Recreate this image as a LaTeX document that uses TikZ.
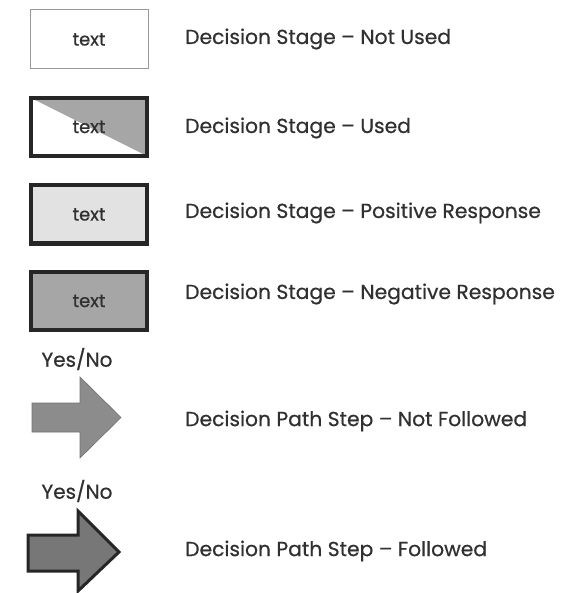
\documentclass[tikz,border=0pt]{standalone}
\usepackage{fontspec}
\setmainfont{Poppins}
\newfontfamily\legendfont[Ligatures=TeX, FakeBold=0.6]{Poppins}
\usetikzlibrary{positioning}
\definecolor{stagegray}{HTML}{A6A6A6}
\definecolor{stagelight}{HTML}{E2E2E2}
\definecolor{inkgray}{HTML}{303030}
\definecolor{arrowgray}{HTML}{8C8C8C}

\begin{document}
\begin{tikzpicture}[x=1pt, y=-1pt,
  stage/.style={rectangle, minimum width=116pt, minimum height=58pt, inner sep=0pt,
    font=\legendfont\fontsize{18}{20}\selectfont, text=inkgray},
  unused/.style={stage, draw=black!40, line width=1pt, minimum width=118pt, minimum height=59pt},
  used/.style={stage, draw=black!85, line width=4pt},
  legend/.style={anchor=west, inner sep=0pt, font=\legendfont\fontsize{20.3}{24}\selectfont, text=inkgray},
  yesno/.style={inner sep=0pt, font=\legendfont\fontsize{20}{24}\selectfont, text=inkgray},
]
\useasboundingbox (0,0) rectangle (560,593);

% decision stages
\node (stage0) [unused] at (89,39.5) {text};
\node (stage1) [used, path picture={
    \fill[stagegray] (path picture bounding box.north west) --
      (path picture bounding box.north east) --
      (path picture bounding box.south east) -- cycle;}] at (89,127) {text};
\node (stage2) [used, fill=stagelight] at (89,214.5) {text};
\node (stage3) [used, fill=stagegray] at (89,301) {text};

\node (desc0) [legend] at (185,39) {Decision Stage -- Not Used};
\node (desc1) [legend] at (185,128) {Decision Stage -- Used};
\node (desc2) [legend] at (185,213) {Decision Stage -- Positive Response};
\node (desc3) [legend] at (185,294) {Decision Stage -- Negative Response};

% decision path steps
\node (yn0) [yesno] at (77,359) {Yes/No};
\draw[fill=arrowgray, draw=arrowgray!80!black, line width=0.6pt]
  (32,403) -- (80,403) -- (80,377) -- (121,417.5) -- (80,458) -- (80,432) -- (32,432) -- cycle;
\node (desc4) [legend] at (185,421) {Decision Path Step -- Not Followed};

\node (yn1) [yesno] at (77,491) {Yes/No};
\draw[fill=arrowgray!85!black, draw=black!85, line width=3pt, line join=miter]
  (28,535) -- (78,535) -- (78,511) -- (119,552) -- (78,591) -- (78,571) -- (28,571) -- cycle;
\node (desc5) [legend] at (185,551) {Decision Path Step -- Followed};

\end{tikzpicture}
\end{document}
